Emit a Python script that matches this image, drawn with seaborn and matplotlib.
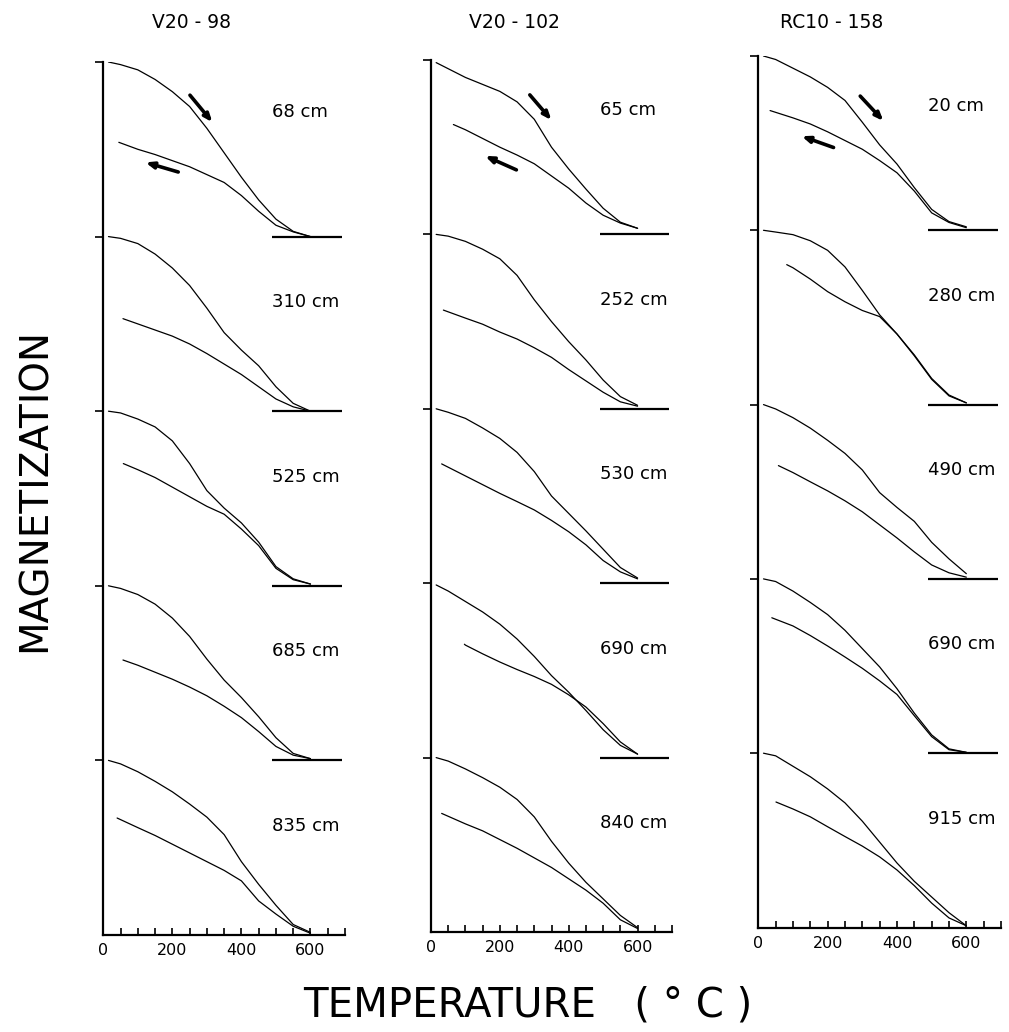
import numpy as np
import pandas as pd
import matplotlib
matplotlib.use("Agg")
import matplotlib.pyplot as plt
import seaborn as sns

# ---------------- data ----------------
CORES = ["V20 - 98", "V20 - 102", "RC10 - 158"]
DEPTHS = [
    ["68 cm", "310 cm", "525 cm", "685 cm", "835 cm"],
    ["65 cm", "252 cm", "530 cm", "690 cm", "840 cm"],
    ["20 cm", "280 cm", "490 cm", "690 cm", "915 cm"],
]

# heating curves (normalised magnetization within each panel strip)
HEAT_T = [15, 50, 100, 150, 200, 250, 300, 350, 400, 450, 500, 550, 600]
V20_98_HEAT = [
    [1.0, 0.985, 0.955, 0.90, 0.83, 0.745, 0.62, 0.48, 0.34, 0.21, 0.10, 0.03, 0.0],
    [1.0, 0.99, 0.96, 0.90, 0.82, 0.72, 0.59, 0.45, 0.35, 0.26, 0.14, 0.045, 0.0],
    [1.0, 0.99, 0.955, 0.91, 0.83, 0.70, 0.545, 0.445, 0.36, 0.25, 0.11, 0.04, 0.01],
    [1.0, 0.985, 0.95, 0.895, 0.815, 0.71, 0.58, 0.46, 0.36, 0.25, 0.13, 0.04, 0.01],
    [1.0, 0.98, 0.935, 0.88, 0.82, 0.75, 0.675, 0.575, 0.42, 0.29, 0.17, 0.06, 0.015],
]
V20_102_HEAT = [
    [0.985, 0.95, 0.90, 0.86, 0.82, 0.76, 0.66, 0.50, 0.375, 0.26, 0.15, 0.07, 0.035],
    [1.0, 0.99, 0.96, 0.915, 0.86, 0.765, 0.625, 0.50, 0.385, 0.28, 0.165, 0.07, 0.02],
    [1.0, 0.98, 0.945, 0.89, 0.83, 0.75, 0.64, 0.50, 0.40, 0.30, 0.195, 0.09, 0.03],
    [0.99, 0.955, 0.895, 0.835, 0.765, 0.68, 0.58, 0.47, 0.375, 0.27, 0.16, 0.07, 0.02],
    [1.0, 0.98, 0.935, 0.885, 0.83, 0.76, 0.66, 0.52, 0.395, 0.285, 0.19, 0.095, 0.025],
]
RC10_158_HEAT = [
    [1.0, 0.98, 0.93, 0.88, 0.82, 0.745, 0.62, 0.49, 0.38, 0.245, 0.12, 0.05, 0.02],
    [1.0, 0.99, 0.975, 0.94, 0.885, 0.79, 0.655, 0.515, 0.405, 0.28, 0.145, 0.05, 0.01],
    [1.0, 0.975, 0.925, 0.865, 0.795, 0.72, 0.625, 0.495, 0.41, 0.33, 0.21, 0.115, 0.03],
    [1.0, 0.985, 0.93, 0.865, 0.795, 0.705, 0.60, 0.495, 0.37, 0.23, 0.105, 0.025, 0.005],
    [1.0, 0.985, 0.925, 0.865, 0.795, 0.715, 0.61, 0.49, 0.37, 0.265, 0.175, 0.085, 0.01],
]

# cooling curves: first point at a sample-specific start temperature
COOL_T = [100, 150, 200, 250, 300, 350, 400, 450, 500, 550, 600]
V20_98_COOL_START_T = [45, 57, 58, 57, 40]
V20_98_COOL = [
    [0.54, 0.50, 0.47, 0.435, 0.40, 0.355, 0.31, 0.235, 0.145, 0.065, 0.027, 0.0],
    [0.53, 0.50, 0.465, 0.43, 0.385, 0.33, 0.27, 0.21, 0.14, 0.07, 0.025, 0.0],
    [0.70, 0.665, 0.62, 0.565, 0.51, 0.455, 0.41, 0.325, 0.23, 0.10, 0.035, 0.01],
    [0.575, 0.545, 0.505, 0.465, 0.42, 0.37, 0.31, 0.245, 0.165, 0.08, 0.03, 0.01],
    [0.67, 0.615, 0.57, 0.52, 0.47, 0.42, 0.37, 0.31, 0.195, 0.12, 0.05, 0.01],
]
V20_102_COOL_START_T = [65, 36, 31, 97, 31]
V20_102_COOL = [
    [0.63, 0.60, 0.55, 0.50, 0.455, 0.405, 0.335, 0.265, 0.18, 0.11, 0.065, 0.035],
    [0.566, 0.52, 0.485, 0.44, 0.40, 0.35, 0.295, 0.225, 0.16, 0.095, 0.04, 0.015],
    [0.684, 0.615, 0.565, 0.515, 0.468, 0.42, 0.36, 0.295, 0.22, 0.13, 0.065, 0.025],
    [0.65, 0.645, 0.595, 0.548, 0.505, 0.465, 0.42, 0.36, 0.29, 0.195, 0.09, 0.02],
    [0.68, 0.62, 0.58, 0.53, 0.48, 0.425, 0.37, 0.305, 0.24, 0.165, 0.07, 0.02],
]
RC10_158_COOL_START_T = [34, 82, 58, 39, 51]
RC10_158_COOL = [
    [0.687, 0.645, 0.61, 0.565, 0.515, 0.465, 0.40, 0.33, 0.225, 0.10, 0.045, 0.015],
    [0.803, 0.785, 0.72, 0.648, 0.59, 0.54, 0.505, 0.405, 0.285, 0.15, 0.055, 0.01],
    [0.65, 0.61, 0.557, 0.505, 0.448, 0.385, 0.31, 0.235, 0.155, 0.08, 0.035, 0.01],
    [0.777, 0.73, 0.675, 0.615, 0.552, 0.487, 0.415, 0.337, 0.215, 0.095, 0.02, 0.005],
    [0.72, 0.68, 0.635, 0.578, 0.522, 0.467, 0.405, 0.33, 0.24, 0.14, 0.055, 0.01],
]

BASELINE_T = [490, 690]
# direction arrows in top strip: (T_tail, M_tail, T_head, M_head)
HEAT_ARROWS = [(251, 0.81, 316, 0.655), (287, 0.80, 350, 0.655), (294, 0.77, 361, 0.627)]
COOL_ARROWS = [(217, 0.37, 122, 0.425), (248, 0.37, 157, 0.45), (217, 0.475, 125, 0.54)]

XTICKS = list(range(0, 701, 50))
XTICK_LABELS = ["0" if t == 0 else (str(t) if t % 200 == 0 and t < 700 else "") for t in XTICKS]

HEATS = [V20_98_HEAT, V20_102_HEAT, RC10_158_HEAT]
COOLS = [V20_98_COOL, V20_102_COOL, RC10_158_COOL]
COOL_STARTS = [V20_98_COOL_START_T, V20_102_COOL_START_T, RC10_158_COOL_START_T]

# ---------------- style / layout ----------------
sns.set_style("ticks")
plt.rcParams["font.family"] = ["DejaVu Sans"]
for key in ["text.color", "axes.labelcolor", "xtick.color", "ytick.color", "axes.edgecolor"]:
    plt.rcParams[key] = "black"

W, H = 1009, 1032
fig = plt.figure(figsize=(W / 100, H / 100), dpi=100)
fig.patch.set_facecolor("white")

# pixel boxes: (x at T=0, x at T=700, y top (M=5), y bottom (M=0))
BOXES = [(103.3, 345.0, 62.0, 935.0), (431.0, 672.0, 60.0, 932.0), (758.3, 1001.0, 56.0, 927.5)]
TITLE_X = [191, 514, 832]

for c in range(3):
    x0, x1, yt, yb = BOXES[c]
    ax = fig.add_axes([x0 / W, 1 - yb / H, (x1 - x0) / W, (yb - yt) / H])
    ax.patch.set_alpha(0)

    rows = []
    for k in range(5):
        off = 4 - k
        for t, m in zip(HEAT_T, HEATS[c][k]):
            rows.append(dict(T=t, M=off + m, curve=f"h{k}"))
        for t, m in zip([COOL_STARTS[c][k]] + COOL_T, COOLS[c][k]):
            rows.append(dict(T=t, M=off + m, curve=f"c{k}"))
    df = pd.DataFrame(rows)
    sns.lineplot(data=df, x="T", y="M", units="curve", estimator=None, sort=False,
                 color="black", linewidth=0.9, legend=False, ax=ax)

    ax.hlines([1, 2, 3, 4], BASELINE_T[0], BASELINE_T[1], color="black", lw=1.6)

    for k in range(5):
        ly = (4 - k) + (0.715 if k == 0 else 0.625)
        ax.text(490, ly, DEPTHS[c][k], fontsize=13, ha="left", va="center", clip_on=False)

    for arr in (HEAT_ARROWS[c], COOL_ARROWS[c]):
        ta, ma, th, mh = arr
        ax.annotate("", xy=(th, 4 + mh), xytext=(ta, 4 + ma),
                    arrowprops=dict(arrowstyle="-|>,head_length=0.45,head_width=0.18",
                                    lw=2.6, color="black", shrinkA=0, shrinkB=0))

    ax.set_xlim(0, 700)
    ax.set_ylim(0, 5)
    ax.set_xticks(XTICKS)
    ax.set_xticklabels(XTICK_LABELS)
    ax.set_yticks([1, 2, 3, 4, 5])
    ax.set_yticklabels([])
    ax.tick_params(axis="x", direction="in", length=5, width=1.2, pad=6, labelsize=11.5)
    ax.tick_params(axis="y", direction="out", length=6, width=1.2)
    for s in ["top", "right"]:
        ax.spines[s].set_visible(False)
    for s in ["left", "bottom"]:
        ax.spines[s].set_linewidth(1.6)
        ax.spines[s].set_color("black")
    ax.set_xlabel("")
    ax.set_ylabel("")

    fig.text(TITLE_X[c] / W, 1 - 22 / H, CORES[c], fontsize=13.5, ha="center", va="center")

fig.text(35 / W, 1 - 490 / H, "MAGNETIZATION", rotation=90, fontsize=28,
         ha="center", va="center")
fig.text(528 / W, 1 - 1006 / H, "TEMPERATURE   ( ° C )", fontsize=29,
         ha="center", va="center")

fig.savefig("out.png", dpi=100, facecolor="white")
